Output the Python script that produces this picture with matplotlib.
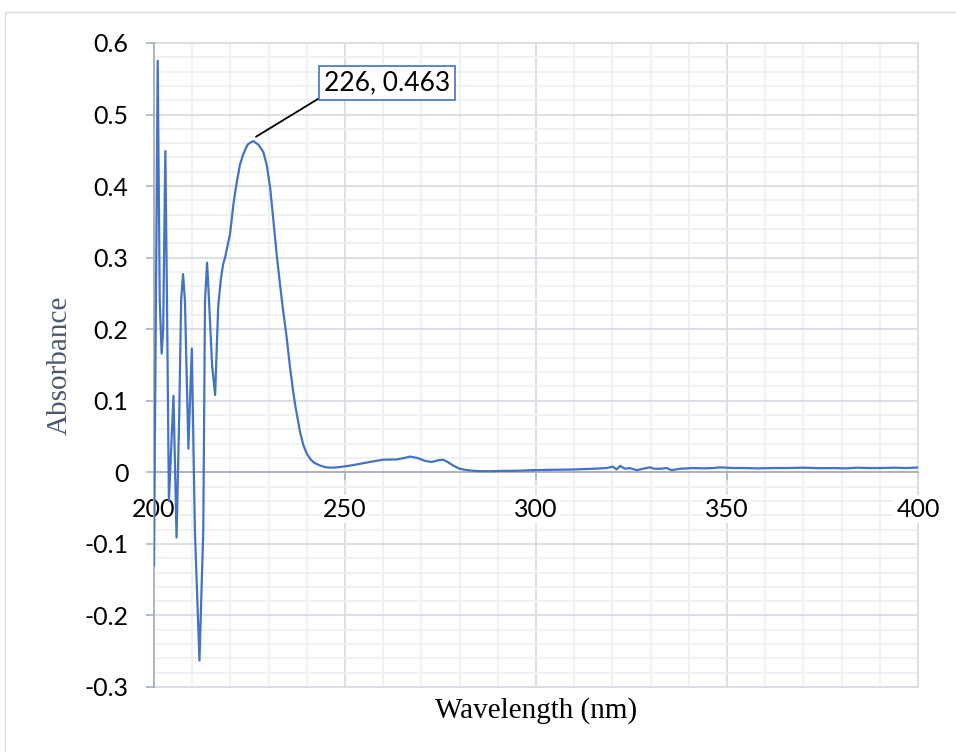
import matplotlib
matplotlib.use("Agg")
import matplotlib.pyplot as plt
from matplotlib.patches import Rectangle
from matplotlib.ticker import MultipleLocator, FuncFormatter, NullFormatter
from matplotlib.transforms import offset_copy

# ---- data ----
wavelength = [200.0, 200.5, 200.97, 201.5, 202.0, 202.4, 202.97, 203.4, 203.9,
              205.1, 205.9, 206.6, 207.1, 207.6, 208.1, 209.0, 209.9, 210.7,
              211.9, 212.9, 213.35, 213.9, 214.4, 215.2, 216.0, 216.8, 217.5,
              218.1, 218.6, 219.9, 220.8, 221.5, 222.5, 223.4, 224.5, 225.3,
              226.0, 227.3, 228.6, 229.5, 230.4, 231.2, 232.1, 233.0, 233.8,
              234.7, 235.6, 236.3, 236.9, 237.6, 238.2, 239.1, 240.0, 241.0,
              242.0, 243.5, 245.0, 246.5, 248.0, 250.0, 252.0, 254.0, 257.0,
              260.0, 263.5, 265.5, 267.0, 269.0, 271.0, 272.7, 274.5, 275.7,
              277.0, 278.5, 280.0, 282.0, 284.5, 288.0, 291.0, 295.0, 299.0,
              304.0, 310.0, 315.0, 318.5, 320.1, 321.1, 322.0, 323.3, 324.5,
              326.4, 328.0, 329.8, 331.0, 332.5, 334.2, 335.5, 337.7, 341.2,
              344.0, 346.4, 348.2, 351.6, 355.0, 358.0, 362.0, 366.0, 370.0,
              374.0, 378.0, 381.0, 384.0, 387.0, 390.0, 394.0, 397.0, 400.0]
absorbance = [-0.13, 0.24, 0.575, 0.24, 0.166, 0.20, 0.449, 0.24, -0.04,
              0.107, -0.091, 0.08, 0.24, 0.277, 0.24, 0.033, 0.173, -0.081,
              -0.263, -0.081, 0.24, 0.293, 0.24, 0.15, 0.108, 0.231, 0.27,
              0.291, 0.30, 0.333, 0.375, 0.40, 0.43, 0.445, 0.458, 0.461,
              0.463, 0.458, 0.448, 0.43, 0.398, 0.355, 0.305, 0.262, 0.226,
              0.19, 0.147, 0.118, 0.096, 0.075, 0.057, 0.038, 0.026, 0.018,
              0.013, 0.0095, 0.007, 0.0065, 0.007, 0.0084, 0.010, 0.012, 0.015,
              0.0177, 0.018, 0.020, 0.022, 0.020, 0.016, 0.0144, 0.017, 0.0177,
              0.014, 0.009, 0.005, 0.003, 0.0018, 0.0015, 0.002, 0.0022, 0.003,
              0.0035, 0.004, 0.005, 0.006, 0.008, 0.004, 0.009, 0.005, 0.006,
              0.003, 0.005, 0.007, 0.005, 0.005, 0.006, 0.003, 0.005, 0.006,
              0.0055, 0.006, 0.007, 0.006, 0.006, 0.0055, 0.006, 0.006, 0.0065,
              0.0058, 0.006, 0.0055, 0.0065, 0.006, 0.006, 0.0065, 0.006, 0.0068]
x_ticks = [200, 250, 300, 350, 400]
peak_x, peak_y = 226, 0.463
peak_label = "226, 0.463"
x_label = "Wavelength (nm)"
y_label = "Absorbance"

# ---- styling ----
line_color = "#4472c4"
axis_color = "#aab3c2"
major_grid = "#d9dde4"
minor_grid = "#eef0f4"
tick_font = "Lato"
title_font = "Liberation Serif"

W, H = 956, 752
fig = plt.figure(figsize=(W / 100, H / 100), dpi=100)
fig.patches.append(Rectangle((5 / W, -0.1), 2, (1 - 12 / H) + 0.1,
                             transform=fig.transFigure, fill=False,
                             ec="#d9d9d9", lw=1.0))

L, R, T, B = 154, 918, 43, 687
ax = fig.add_axes([L / W, 1 - B / H, (R - L) / W, (B - T) / H])
ax.set_xlim(200, 400)
ax.set_ylim(-0.3, 0.6)

ax.set_xticks(x_ticks)
ax.xaxis.set_minor_locator(MultipleLocator(10))
ax.yaxis.set_major_locator(MultipleLocator(0.1))
ax.yaxis.set_minor_locator(MultipleLocator(0.02))

ax.grid(which="minor", color=minor_grid, lw=1.3, zorder=0)
ax.grid(which="major", color=major_grid, lw=1.3, zorder=0)
ax.set_axisbelow(True)

for s in ["top", "right"]:
    ax.spines[s].set_color(major_grid)
    ax.spines[s].set_linewidth(1.3)
    ax.spines[s].set_zorder(0.8)
ax.axhline(-0.3, color=major_grid, lw=1.3, clip_on=False, zorder=0)
ax.spines["left"].set_color(axis_color)
ax.spines["left"].set_linewidth(1.4)
ax.spines["bottom"].set_position(("data", 0))
ax.spines["bottom"].set_color(axis_color)
ax.spines["bottom"].set_linewidth(1.4)
ax.spines["bottom"].set_zorder(1)

def fmt(v, pos):
    s = f"{v:.1f}"
    if s in ("0.0", "-0.0"):
        return "0"
    return s

ax.yaxis.set_major_formatter(FuncFormatter(fmt))
ax.xaxis.set_major_formatter(NullFormatter())

ax.tick_params(axis="both", which="minor", length=0)
ax.tick_params(axis="y", which="major", direction="out", length=5.5,
               width=1.2, color=axis_color, pad=13, labelsize=18,
               labelcolor="black")
ax.tick_params(axis="x", which="major", direction="out", length=6,
               width=1.2, color=axis_color)
for lab in ax.get_yticklabels():
    lab.set_fontfamily(tick_font)

# x tick labels below the zero line, with a white backing (under the curve)
lab_tr = offset_copy(ax.transData, fig=fig, x=0, y=-44.5, units="dots")
for v in x_ticks:
    ax.text(v, 0, f"{v}", transform=lab_tr, ha="center", va="baseline",
            fontsize=18, family=tick_font, color="black", zorder=2,
            clip_on=False,
            bbox=dict(boxstyle="square,pad=0.1", fc="white", ec="none"))

ax.plot(wavelength, absorbance, color=line_color, lw=1.6, zorder=3,
        solid_joinstyle="round")

ax.annotate(peak_label, xy=(226.7, 0.469), xytext=(260.9, 0.544),
            ha="center", va="center", fontsize=19, family=tick_font,
            bbox=dict(boxstyle="square,pad=0.18", fc="white",
                      ec=line_color, lw=1.2),
            arrowprops=dict(arrowstyle="-", color="black", lw=1.3,
                            relpos=(0, 0), shrinkA=0, shrinkB=0),
            zorder=5)

ax.set_xlabel(x_label, family=title_font, fontsize=21, color="black")
ax.set_ylabel(y_label, family=title_font, fontsize=21, color="#4a586e")
ax.xaxis.set_label_coords(0.5, (B - 711) / (B - T))
ax.xaxis.label.set_va("center")
ax.yaxis.set_label_coords((60 - L) / (R - L), 0.5)
ax.yaxis.label.set_va("center")

fig.savefig("out.png", dpi=100)
